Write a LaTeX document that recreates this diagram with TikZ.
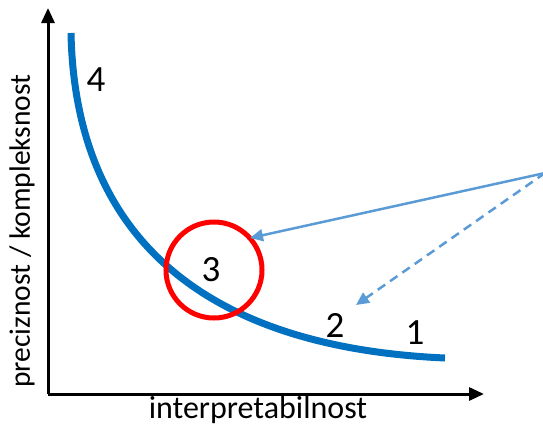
\documentclass[tikz,border=0pt]{standalone}
\usepackage{fontspec}
\setmainfont{Carlito}
\usepackage{xcolor}
\usetikzlibrary{arrows.meta,positioning}

\definecolor{curveblue}{HTML}{0070C0}
\definecolor{arrowblue}{HTML}{5B9BD5}

\begin{document}
\begin{tikzpicture}[
  x=1pt, y=-1pt,
  >=Triangle,
  axis/.style={line width=3pt, -{Triangle[length=15pt,width=13pt]}},
  hint/.style={line width=2.5pt, arrowblue, -{Triangle[length=13pt,width=12pt]}},
  num/.style={font=\fontsize{37}{40}\selectfont, inner sep=0pt}
]
  \useasboundingbox (0,0) rectangle (543,426);

  % Axes
  \coordinate (origin) at (48,394);
  \coordinate (ytip) at (48,8);
  \coordinate (xtip) at (484,394);
  \draw[axis] (origin) -- (ytip);
  \draw[axis] (origin) -- (xtip);
  \node[font=\fontsize{29.5}{32}\selectfont, rotate=90] (ylab) at (22,231)
    {preciznost / kompleksnost};
  \node[font=\fontsize{32}{35}\selectfont] (xlab) at (258,410)
    {interpretabilnost};

  % Trade-off curve
  \draw[curveblue, line width=7pt]
    (71,33) .. controls (75,230) and (196,347) .. (445,358);

  % Highlighted point
  \node[circle, draw=red, line width=5pt, minimum size=96pt] (ring)
    at (214,270) {};

  % Labels along the curve
  \node[num] (four) at (96,80) {4};
  \node[num] (three) at (211,270) {3};
  \node[num] (two) at (335,325) {2};
  \node[num] (one) at (415,333) {1};

  % Hint arrows
  \coordinate (src) at (545,173);
  \coordinate (ringtip) at (250,238);
  \coordinate (twotip) at (356,305);
  \draw[hint] (src) -- (ringtip);
  \draw[hint, dash pattern=on 9pt off 6pt] (src) -- (twotip);
\end{tikzpicture}
\end{document}
